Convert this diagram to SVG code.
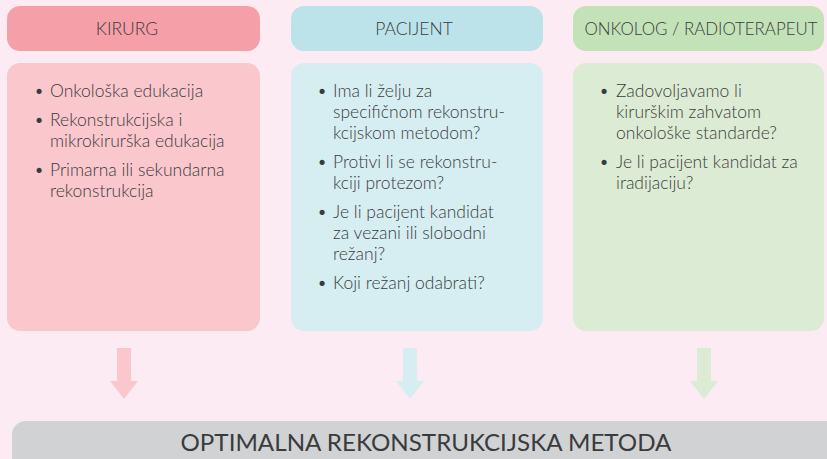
<svg xmlns="http://www.w3.org/2000/svg" width="827" height="459" viewBox="0 0 827 459">
<style>
text{font-family:Lato,"Open Sans","Liberation Sans",sans-serif;fill:#3b3b3d;font-weight:300}
.h{font-size:17.5px;text-anchor:middle}
.b{font-size:17.5px}
.t{font-size:23px;text-anchor:middle;font-weight:400}
</style>
<rect x="0" y="0" width="827" height="459" fill="#fdebf3"/>
<g id="kirurg">
<rect x="7" y="6" width="253" height="45" rx="13" fill="#f59fa9"/>
<text class="h" x="127" y="35">KIRURG</text>
</g>
<g id="kirurg-content">
<rect x="7" y="63" width="253" height="268" rx="13" fill="#f9c7cc"/>
<text class="b" x="34" y="97">•</text><text class="b" x="50" y="97">Onkološka edukacija</text>
<text class="b" x="34" y="126">•</text><text class="b" x="50" y="126">Rekonstrukcijska i</text>
<text class="b" x="50" y="147">mikrokirurška edukacija</text>
<text class="b" x="34" y="176">•</text><text class="b" x="50" y="176">Primarna ili sekundarna</text>
<text class="b" x="50" y="197">rekonstrukcija</text>
</g>
<g id="pacijent">
<rect x="291" y="6" width="252" height="45" rx="13" fill="#bde3ea"/>
<text class="h" x="414" y="35">PACIJENT</text>
</g>
<g id="pacijent-content">
<rect x="291" y="63" width="252" height="268" rx="13" fill="#d6eef1"/>
<text class="b" x="317" y="97">•</text><text class="b" x="333" y="97">Ima li želju za</text>
<text class="b" x="333" y="118">specifičnom rekonstru-</text>
<text class="b" x="333" y="139">kcijskom metodom?</text>
<text class="b" x="317" y="168">•</text><text class="b" x="333" y="168">Protivi li se rekonstru-</text>
<text class="b" x="333" y="189">kciji protezom?</text>
<text class="b" x="317" y="218">•</text><text class="b" x="333" y="218">Je li pacijent kandidat</text>
<text class="b" x="333" y="239">za vezani ili slobodni</text>
<text class="b" x="333" y="260">režanj?</text>
<text class="b" x="317" y="289">•</text><text class="b" x="333" y="289">Koji režanj odabrati?</text>
</g>
<g id="onkolog">
<rect x="573" y="6" width="251" height="45" rx="13" fill="#c3e2b8"/>
<text class="h" x="701" y="35" textLength="233" lengthAdjust="spacingAndGlyphs">ONKOLOG / RADIOTERAPEUT</text>
</g>
<g id="onkolog-content">
<rect x="573" y="63" width="251" height="268" rx="13" fill="#dcebd3"/>
<text class="b" x="599" y="97">•</text><text class="b" x="616" y="97">Zadovoljavamo li</text>
<text class="b" x="616" y="118">kirurškim zahvatom</text>
<text class="b" x="616" y="139">onkološke standarde?</text>
<text class="b" x="599" y="168">•</text><text class="b" x="616" y="168">Je li pacijent kandidat za</text>
<text class="b" x="616" y="189">iradijaciju?</text>
</g>
<g id="connectors">
<polygon points="117,348 131,348 131,381 138,381 124,399 110,381 117,381" fill="#f9c7cc"/>
<polygon points="403,348 417,348 417,381 424,381 410,399 396,381 403,381" fill="#d6eef1"/>
<polygon points="697,348 711,348 711,381 718,381 704,399 690,381 697,381" fill="#dcebd3"/>
</g>
<g id="optimalna">
<rect x="12" y="421" width="830" height="60" rx="14" fill="#d1d2d4"/>
<text class="t" x="426" y="451" textLength="491" lengthAdjust="spacingAndGlyphs">OPTIMALNA REKONSTRUKCIJSKA METODA</text>
</g>
</svg>
